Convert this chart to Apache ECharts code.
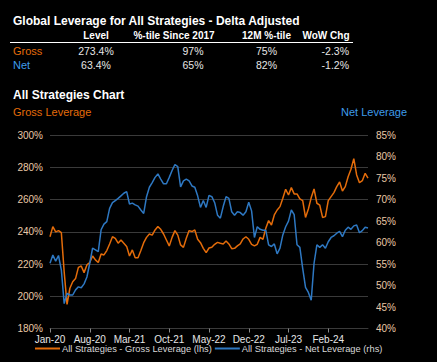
<!DOCTYPE html>
<html>
<head>
<meta charset="utf-8">
<script src="https://cdn.jsdelivr.net/npm/echarts@6/dist/echarts.min.js"></script>
<style>
  html, body { margin: 0; padding: 0; background: #000; }
  #chart { width: 437px; height: 362px; }
</style>
</head>
<body>
<div id="chart"></div>
<script>
// ---- Data ----
var titleText = 'Global Leverage for All Strategies - Delta Adjusted';
var tableHeaders = ['Level', '%-tile Since 2017', '12M %-tile', 'WoW Chg'];
var rowNames = ['Gross', 'Net'];
var grossRow = ['273.4%', '97%', '75%', '-2.3%'];
var netRow = ['63.4%', '65%', '82%', '-1.2%'];
var chartTitle = 'All Strategies Chart';
var leftAxisName = 'Gross Leverage';
var rightAxisName = 'Net Leverage';
var seriesNames = ['All Strategies - Gross Leverage (lhs)', 'All Strategies - Net Leverage (rhs)'];
var monthNames = ['Jan','Feb','Mar','Apr','May','Jun','Jul','Aug','Sep','Oct','Nov','Dec'];

// semi-monthly observations, Jan-2020 .. Sep-2024
var gross = [
  237, 243.3, 240, 240.8, 239.5, 215, 195, 205, 209, 211,
  218, 218.8, 214.7, 219.5, 221, 225, 222.6, 221, 226.3, 225.7,
  228.4, 232.5, 237, 236, 233, 235, 233, 231, 225, 228.8,
  224, 224, 228.4, 233.3, 236.6, 238.7, 238, 241.2, 243.3, 241.6,
  238.7, 235, 231.3, 236.6, 240.8, 238, 231.9, 230.4, 236, 240.8,
  240.2, 241.2, 235.4, 233.3, 229.8, 227.1, 230, 230.4, 232.3, 233.5,
  232.9, 232.5, 234.4, 232.5, 229.6, 229.8, 231.3, 232.5, 235.6, 237,
  235.4, 232.3, 231.3, 232.3, 236.6, 235.4, 242.2, 247, 244.3, 250.5,
  253.6, 255.7, 260.9, 266.5, 262.9, 267.5, 263.6, 263.6, 260.5, 259.4,
  249, 254.2, 261.3, 266.7, 257.8, 256.7, 249, 249.5, 259.4, 261.9,
  264.4, 268.1, 271, 265.4, 268.1, 274.3, 278.9, 285.5, 275.4, 270.6,
  271.8, 276.4, 273.4
];
var net = [
  55.2, 57.1, 55.7, 57, 53.6, 45.8, 48.2, 47.8, 47.8, 49,
  49.7, 49.5, 50.4, 52, 55.2, 58.7, 58.3, 57.9, 63, 64.3,
  64.9, 68, 69.3, 69.8, 70.3, 70.9, 71.5, 71.9, 69, 69.2,
  68.8, 68.5, 67.6, 66.8, 70.7, 72.9, 74, 75.2, 76, 74.8,
  73.7, 73.7, 75.2, 76.8, 78.2, 77.7, 73, 74.4, 74.8, 74.4,
  73.2, 72.9, 70.9, 68.2, 69.8, 68.2, 71, 70.7, 69.3, 66.4,
  65.7, 68.4, 70.7, 70.3, 67.2, 66.4, 67.2, 67, 66.4, 67.2,
  69.4, 67.4, 61.2, 63.7, 63.1, 62.9, 62.9, 59.5, 59.1, 59.7,
  57.4, 58.7, 61.8, 63.7, 65, 67.6, 66.5, 59.5, 58.9, 54,
  49.6, 48.4, 46.6, 55.2, 59.5, 58.9, 59.5, 58.7, 60.2, 61.2,
  61.6, 62.2, 62.6, 61.4, 62.9, 63.6, 63.1, 63.9, 64.1, 62.3,
  62.8, 63.6, 63.4
];

// category dates (1st and 16th of each month)
var dates = [];
for (var i = 0; i < gross.length; i++) {
  var mi = Math.floor(i / 2);
  var y = 2020 + Math.floor(mi / 12);
  var m = mi % 12 + 1;
  dates.push(y + '-' + (m < 10 ? '0' : '') + m + '-' + (i % 2 ? '16' : '01'));
}
function fmtDate(s) {
  var p = s.split('-');
  return monthNames[parseInt(p[1], 10) - 1] + '-' + p[0].slice(2);
}

var ORANGE = '#E46C0A';
var BLUE = '#2E78C2';
var LABEL_NET = '#3E9BEA';
var AXIS_LABEL = '#E9C9A7';
var FONT = '"Liberation Sans", Arial, sans-serif';

var chart = echarts.init(document.getElementById('chart'), null, { renderer: 'svg' });

// table graphics
var colHeaderX = [96, 174, 266.5, 326];
var colValueX = [96, 193, 266.5, 349];
var colValueAlign = ['center', 'center', 'center', 'right'];
var graphics = [];
graphics.push({ type: 'text', x: 13, y: 20.5, style: { text: titleText, fill: '#fff', font: 'bold 12px ' + FONT, textVerticalAlign: 'middle' } });
tableHeaders.forEach(function (h, k) {
  graphics.push({ type: 'text', x: colHeaderX[k], y: 35, style: { text: h, fill: '#fff', font: 'bold 10px ' + FONT, textAlign: 'center', textVerticalAlign: 'middle' } });
});
graphics.push({ type: 'line', shape: { x1: 10, y1: 42.5, x2: 353, y2: 42.5 }, style: { stroke: '#fff', lineWidth: 1 } });
[grossRow, netRow].forEach(function (row, r) {
  var yy = r === 0 ? 50.5 : 65;
  graphics.push({ type: 'text', x: 13, y: yy, style: { text: rowNames[r], fill: r === 0 ? ORANGE : LABEL_NET, font: '11px ' + FONT, textVerticalAlign: 'middle' } });
  row.forEach(function (v, k) {
    graphics.push({ type: 'text', x: colValueX[k], y: yy, style: { text: v, fill: '#e6e6e6', font: '10.5px ' + FONT, textAlign: colValueAlign[k], textVerticalAlign: 'middle' } });
  });
});
graphics.push({ type: 'text', x: 13, y: 95, style: { text: chartTitle, fill: '#fff', font: 'bold 12px ' + FONT, textVerticalAlign: 'middle' } });
graphics.push({ type: 'text', x: 13, y: 111.5, style: { text: leftAxisName, fill: ORANGE, font: '11px ' + FONT, textVerticalAlign: 'middle' } });
graphics.push({ type: 'text', x: 341, y: 111.5, style: { text: rightAxisName, fill: LABEL_NET, font: '11px ' + FONT, textVerticalAlign: 'middle' } });

var labelInterval = function (idx) { return idx % 14 === 0 && idx < 105; };

chart.setOption({
  backgroundColor: '#000',
  animation: false,
  textStyle: { fontFamily: FONT },
  graphic: graphics,
  grid: { left: 50, right: 69, top: 135.3, bottom: 33.5, containLabel: false },
  legend: {
    left: 30, bottom: 4,
    itemWidth: 25, itemHeight: 2, itemGap: 3,
    icon: 'rect',
    textStyle: { color: '#d9d9d9', fontSize: 9.3, fontFamily: FONT, padding: [0, 0, 0, -3] },
    data: seriesNames
  },
  xAxis: {
    type: 'category',
    data: dates,
    boundaryGap: false,
    axisLine: { show: true, lineStyle: { color: '#3a3a3a' } },
    axisTick: { show: true, interval: labelInterval, length: 4, lineStyle: { color: '#888' } },
    axisLabel: { interval: labelInterval, color: '#e6e6e6', fontSize: 10, margin: 6, formatter: fmtDate },
    splitLine: { show: false }
  },
  yAxis: [
    {
      type: 'value', min: 180, max: 300, interval: 20,
      axisLine: { show: false }, axisTick: { show: false },
      axisLabel: { color: AXIS_LABEL, fontSize: 10, margin: 7, formatter: '{value}%' },
      splitLine: { show: true, lineStyle: { color: '#3a3a3a', width: 1 } }
    },
    {
      type: 'value', min: 40, max: 85, interval: 5,
      axisLine: { show: false }, axisTick: { show: false },
      axisLabel: { color: AXIS_LABEL, fontSize: 10, margin: 8, formatter: '{value}%' },
      splitLine: { show: false }
    }
  ],
  series: [
    { name: seriesNames[0], type: 'line', yAxisIndex: 0, data: gross, showSymbol: false, lineStyle: { color: ORANGE, width: 1.5 }, itemStyle: { color: ORANGE } },
    { name: seriesNames[1], type: 'line', yAxisIndex: 1, data: net, showSymbol: false, lineStyle: { color: BLUE, width: 1.5 }, itemStyle: { color: BLUE } }
  ]
});
</script>
</body>
</html>
